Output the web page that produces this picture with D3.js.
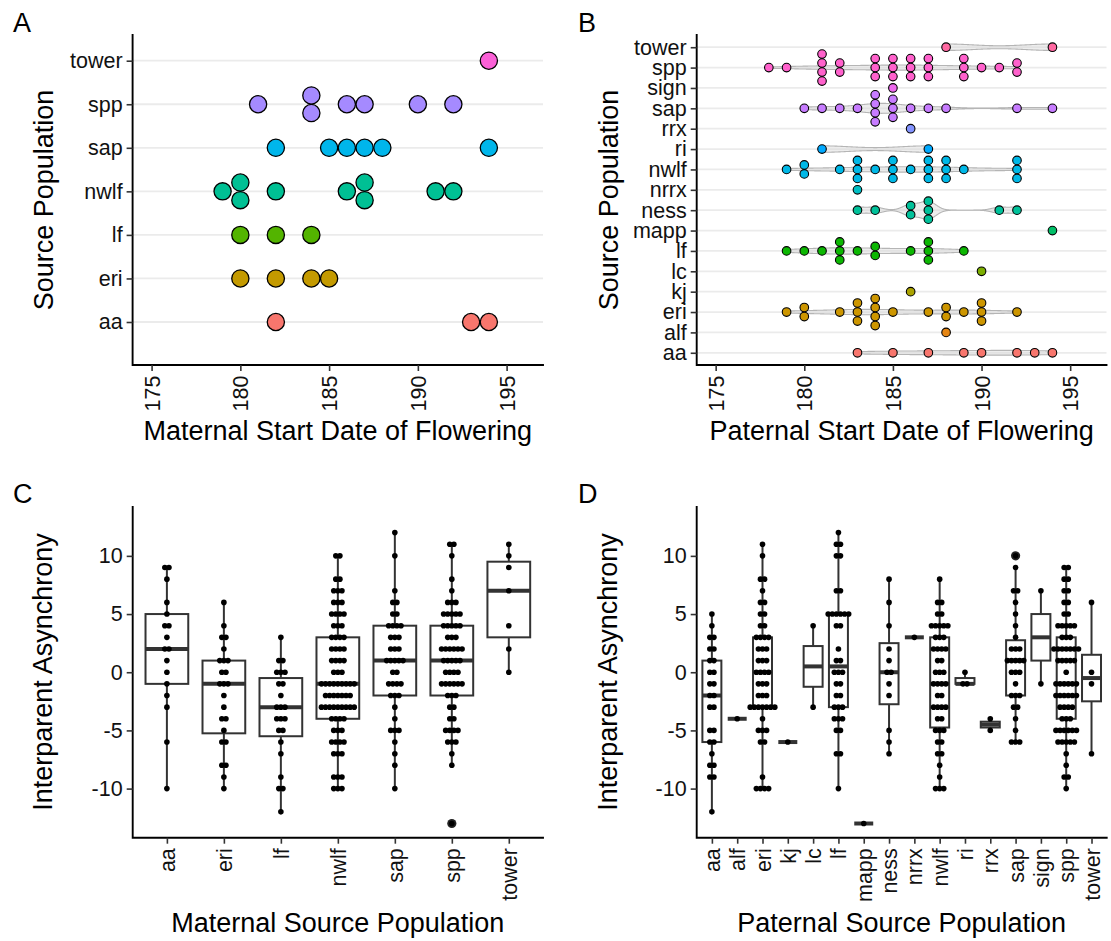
<!DOCTYPE html>
<html>
<head>
<meta charset="utf-8">
<script src="https://cdn.jsdelivr.net/npm/d3@7"></script>
<style>
  body { margin: 0; background: #fff; }
  text { font-family: "Liberation Sans", Arial, sans-serif; }
</style>
</head>
<body>
<script>
// ---- data ----
const maternalPops = ["aa", "eri", "lf", "nwlf", "sap", "spp", "tower"];
const maternalColors = ["#F8766D", "#C49A00", "#53B400", "#00C094", "#00B6EB", "#A58AFF", "#FB61D7"];
// maternal start date of flowering, one array per population
const maternalStart = [
  [182, 193, 194],
  [180, 182, 184, 185],
  [180, 182, 184],
  [179, 180, 180, 182, 186, 187, 187, 191, 192],
  [182, 185, 186, 187, 188, 194],
  [181, 184, 184, 186, 187, 190, 192],
  [194]
];

const paternalPops = ["aa", "alf", "eri", "kj", "lc", "lf", "mapp", "ness", "nrrx", "nwlf", "ri", "rrx", "sap", "sign", "spp", "tower"];
const paternalColors = ["#F8766D", "#E68613", "#CD9600", "#ABA300", "#7CAE00", "#0CB702", "#00BE67", "#00C19A",
                        "#00BFC4", "#00B8E7", "#00A9FF", "#8494FF", "#C77CFF", "#ED68ED", "#FF61CC", "#FF68A1"];
// paternal start date of flowering as [date, count]
const paternalStart = [
  [[183,1],[185,1],[187,1],[189,1],[190,1],[192,1],[193,1],[194,1]],
  [[188,1]],
  [[179,1],[180,2],[182,1],[183,3],[184,4],[185,1],[187,1],[188,2],[189,1],[190,3],[192,1]],
  [[186,1]],
  [[190,1]],
  [[179,1],[180,1],[181,1],[182,3],[183,1],[184,2],[186,1],[187,3],[189,1]],
  [[194,1]],
  [[183,1],[184,1],[186,2],[187,3],[191,1],[192,1]],
  [[183,1]],
  [[179,1],[180,2],[182,1],[183,3],[184,1],[185,3],[186,1],[187,3],[188,3],[189,1],[192,3]],
  [[181,1],[187,1]],
  [[186,1]],
  [[180,1],[181,1],[182,1],[183,1],[184,4],[185,3],[186,1],[187,1],[188,1],[192,1],[194,1]],
  [[185,1]],
  [[178,1],[179,1],[181,4],[182,2],[184,3],[185,3],[186,3],[187,3],[189,3],[190,1],[191,1],[192,2]],
  [[188,1],[194,1]]
];

// interparent asynchrony by maternal population as [value, count]
const maternalAsync = [
  [[9,2],[8,1],[6,1],[5,1],[4,2],[3,1],[2,2],[1,1],[0,1],[-1,1],[-2,1],[-3,1],[-6,1],[-10,1]],
  [[6,1],[4,1],[3,2],[2,1],[1,3],[0,2],[-1,3],[-2,1],[-3,1],[-4,2],[-5,1],[-6,2],[-8,2],[-9,1],[-10,1]],
  [[3,1],[1,2],[0,3],[-1,2],[-2,1],[-3,3],[-4,3],[-5,2],[-6,1],[-7,1],[-9,1],[-10,2],[-12,1]],
  [[10,2],[8,2],[7,3],[6,3],[5,4],[4,3],[3,4],[2,4],[1,4],[0,3],[-1,9],[-2,7],[-3,9],[-4,4],[-5,3],[-6,4],[-7,3],[-9,3],[-10,3]],
  [[12,1],[10,1],[7,1],[6,2],[5,2],[4,4],[3,3],[2,3],[1,5],[0,2],[-1,4],[-2,3],[-3,1],[-4,1],[-5,3],[-6,1],[-7,1],[-8,1],[-10,1]],
  [[11,2],[10,1],[8,1],[7,1],[6,3],[5,5],[4,5],[3,3],[2,6],[1,5],[0,4],[-1,6],[-2,3],[-3,2],[-4,2],[-5,4],[-6,3],[-7,1],[-8,1],[-13,1]],
  [[11,1],[10,1],[9,1],[7,1],[4,1],[2,1],[0,1]]
];

// interparent asynchrony by paternal population as [value, count]
const paternalAsync = [
  [[5,1],[4,1],[3,2],[2,2],[1,2],[0,2],[-1,2],[-2,2],[-3,2],[-5,2],[-6,2],[-7,1],[-8,2],[-9,2],[-12,1]],
  [[-4,1]],
  [[11,1],[10,1],[8,2],[7,1],[6,2],[5,2],[4,2],[3,4],[2,3],[1,3],[0,4],[-1,3],[-2,3],[-3,7],[-4,1],[-5,3],[-6,2],[-9,1],[-10,4]],
  [[-6,1]],
  [[4,1],[-3,1]],
  [[12,1],[11,2],[10,2],[7,2],[5,6],[4,2],[2,1],[1,2],[0,3],[-1,2],[-2,2],[-3,3],[-4,3],[-5,2],[-7,2],[-10,1]],
  [[-13,1]],
  [[8,1],[6,1],[4,1],[2,1],[1,1],[0,2],[-1,1],[-2,1],[-5,1],[-6,1],[-7,1]],
  [[3,1]],
  [[8,1],[6,2],[5,2],[4,5],[3,3],[2,4],[1,2],[0,3],[-1,4],[-2,2],[-3,4],[-4,2],[-5,3],[-6,2],[-7,2],[-8,1],[-9,1],[-10,3]],
  [[0,1],[-1,2]],
  [[-4,1],[-5,1]],
  [[10,1],[9,1],[7,2],[6,1],[5,1],[4,1],[3,1],[2,3],[1,5],[0,3],[-1,1],[-2,3],[-3,2],[-4,1],[-5,1],[-6,3]],
  [[7,1],[-1,1]],
  [[9,2],[8,2],[7,2],[6,2],[5,2],[4,5],[3,3],[2,7],[1,5],[0,1],[-1,6],[-2,6],[-3,4],[-4,3],[-5,6],[-6,5],[-7,1],[-8,1],[-9,2],[-10,1]],
  [[6,1],[0,1],[-1,1],[-7,1]]
];

const dateTicks = [175, 180, 185, 190, 195];
const asyncTicks = [-10, -5, 0, 5, 10];

// ---- helpers ----
const expand = pairs => pairs.flatMap(([v, n]) => d3.range(n).map(() => v));
const toPairs = vals => d3.rollups(vals, v => v.length, d => d);

const svg = d3.select("body").append("svg")
    .attr("width", 1111)
    .attr("height", 941)
    .style("background", "#fff");

const TICK_FS = 21.5, TITLE_FS = 27;

function styleAxis(g) {
  g.attr("font-family", null).attr("font-size", null);
  g.select(".domain").remove();
  g.selectAll(".tick line").attr("stroke", "#333").attr("stroke-width", 1.6);
  g.selectAll(".tick text").attr("fill", "#111").style("font-size", TICK_FS + "px");
}

function axisFrame(g, x0, x1, y0, y1) {
  g.append("path")
      .attr("d", `M${x0},${y0}V${y1}H${x1}`)
      .attr("fill", "none")
      .attr("stroke", "#000")
      .attr("stroke-width", 1.9)
      .attr("stroke-linecap", "square");
}

function bottomAxis(g, scale, y, ticks) {
  const ax = d3.axisBottom(scale).tickSize(6).tickSizeOuter(0);
  if (ticks) ax.tickValues(ticks);
  const a = g.append("g").attr("transform", `translate(0,${y})`).call(ax);
  styleAxis(a);
  a.selectAll(".tick text")
      .attr("transform", "rotate(-90)")
      .attr("x", -10.5)
      .attr("y", 0)
      .attr("dy", "0.35em")
      .style("text-anchor", "end");
}

function leftAxis(g, scale, x, ticks, fmt) {
  const ax = d3.axisLeft(scale).tickSize(6).tickPadding(4).tickSizeOuter(0);
  if (ticks) ax.tickValues(ticks);
  if (fmt) ax.tickFormat(fmt);
  const a = g.append("g").attr("transform", `translate(${x},0)`).call(ax);
  styleAxis(a);
}

function titles(g, xTitle, xc, yb, yTitle, yx, yc) {
  g.append("text").attr("x", xc).attr("y", yb)
      .attr("text-anchor", "middle").style("font-size", TITLE_FS + "px").text(xTitle);
  g.append("text").attr("transform", `translate(${yx},${yc}) rotate(-90)`)
      .attr("dy", "0.35em")
      .attr("text-anchor", "middle").style("font-size", TITLE_FS + "px").text(yTitle);
}

function panelLabel(label, x, y) {
  svg.append("text").attr("x", x).attr("y", y).style("font-size", "27px").text(label);
}

// ---- stacked dot panels (A, B) ----
function dotPanel(opts) {
  const { pops, data, colors, x, y, r, gap, sw } = opts;
  const g = svg.append("g");
  const [x0, x1] = x.range();
  g.selectAll("line.grid").data(pops).join("line")
      .attr("x1", x0).attr("x2", x1)
      .attr("y1", d => y(d)).attr("y2", d => y(d))
      .attr("stroke", "#ebebeb").attr("stroke-width", 1.8);
  if (opts.violin) opts.violin(g);
  const pts = [];
  pops.forEach((p, i) => {
    data[i].forEach(([v, n]) => {
      for (let k = 0; k < n; k++) {
        pts.push({ v, y: y(p) + (k - (n - 1) / 2) * gap, c: colors[i] });
      }
    });
  });
  g.selectAll("circle").data(pts).join("circle")
      .attr("cx", d => x(d.v))
      .attr("cy", d => d.y)
      .attr("r", r)
      .attr("fill", d => d.c)
      .attr("stroke", "#000")
      .attr("stroke-width", sw);
  return g;
}

// panel A
const xA = d3.scaleLinear().domain([173.93, 197.05]).range([132.6, 543]);
const yA = d3.scalePoint().domain(maternalPops).range([322, 60.7]);
const gA = dotPanel({ pops: maternalPops, data: maternalStart.map(toPairs), colors: maternalColors,
                      x: xA, y: yA, r: 8.6, gap: 17.6, sw: 1.3 });
axisFrame(gA, 132.6, 543, 35, 365);
leftAxis(gA, yA, 132.6);
bottomAxis(gA, xA, 365, dateTicks);
titles(gA, "Maternal Start Date of Flowering", 337.8, 440, "Source Population", 44, 200);
panelLabel("A", 13, 32);

// panel B
const xB = d3.scaleLinear().domain([173.93, 197.05]).range([696.7, 1106.5]);
const yB = d3.scalePoint().domain(paternalPops).range([365, 35]).padding(0.6);

function violinLayer(g) {
  const groups = [];
  paternalPops.forEach((p, i) => {
    const vals = expand(paternalStart[i]).sort(d3.ascending);
    if (vals.length < 2) return;
    const sd = d3.deviation(vals);
    const iqr = d3.quantileSorted(vals, 0.75) - d3.quantileSorted(vals, 0.25);
    let lo = Math.min(sd, iqr / 1.34);
    if (!(lo > 0)) lo = sd || 1;
    const bw = 0.9 * lo * Math.pow(vals.length, -0.2);
    const lo0 = vals[0], hi0 = vals[vals.length - 1];
    const grid = d3.range(512).map(k => lo0 + (hi0 - lo0) * k / 511);
    const dens = grid.map(gx => ({
      x: gx,
      d: d3.mean(vals, v => Math.exp(-0.5 * ((gx - v) / bw) ** 2)) / (bw * Math.sqrt(2 * Math.PI))
    }));
    groups.push({ p, dens });
  });
  const maxD = d3.max(groups, gr => d3.max(gr.dens, d => d.d));
  const half = 0.45 * yB.step();
  groups.forEach(gr => {
    const cy = yB(gr.p);
    const area = d3.area()
        .x(d => xB(d.x))
        .y0(d => cy - d.d / maxD * half)
        .y1(d => cy + d.d / maxD * half);
    g.append("path").datum(gr.dens)
        .attr("d", area)
        .attr("fill", "#d6d6d6")
        .attr("fill-opacity", 0.45)
        .attr("stroke", "#b5b5b5")
        .attr("stroke-width", 1.1);
  });
}

const gB = dotPanel({ pops: paternalPops, data: paternalStart, colors: paternalColors,
                      x: xB, y: yB, r: 4.3, gap: 9, sw: 1.1, violin: violinLayer });
axisFrame(gB, 696.7, 1106.5, 35, 365);
leftAxis(gB, yB, 696.7);
bottomAxis(gB, xB, 365, dateTicks);
titles(gB, "Paternal Start Date of Flowering", 901.6, 440, "Source Population", 609, 200);
panelLabel("B", 578, 32);

// ---- box + dot panels (C, D) ----
function boxPanel(pops, data, x, y) {
  const g = svg.append("g");
  const bw = 0.75 * x.step();
  const stats = pops.map((p, i) => {
    const s = expand(data[i]).sort(d3.ascending);
    const q1 = d3.quantileSorted(s, 0.25), med = d3.quantileSorted(s, 0.5), q3 = d3.quantileSorted(s, 0.75);
    const iqr = q3 - q1, lo = q1 - 1.5 * iqr, hi = q3 + 1.5 * iqr;
    const inside = s.filter(v => v >= lo && v <= hi);
    return { p, q1, med, q3, wlo: d3.min(inside), whi: d3.max(inside),
             out: s.filter(v => v < lo || v > hi), pairs: data[i] };
  });
  // whiskers
  g.selectAll("line.wh").data(stats.flatMap(d => [[d.p, d.q3, d.whi], [d.p, d.q1, d.wlo]])).join("line")
      .attr("x1", d => x(d[0])).attr("x2", d => x(d[0]))
      .attr("y1", d => y(d[1])).attr("y2", d => y(d[2]))
      .attr("stroke", "#333").attr("stroke-width", 2);
  // boxes
  g.selectAll("rect").data(stats).join("rect")
      .attr("x", d => x(d.p) - bw / 2).attr("width", bw)
      .attr("y", d => y(d.q3)).attr("height", d => y(d.q1) - y(d.q3))
      .attr("fill", "#fff").attr("stroke", "#333").attr("stroke-width", 2);
  // medians
  g.selectAll("line.med").data(stats).join("line")
      .attr("x1", d => x(d.p) - bw / 2).attr("x2", d => x(d.p) + bw / 2)
      .attr("y1", d => y(d.med)).attr("y2", d => y(d.med))
      .attr("stroke", "#333").attr("stroke-width", 4);
  // outliers
  g.selectAll("circle.out").data(stats.flatMap(d => d.out.map(v => [d.p, v]))).join("circle")
      .attr("cx", d => x(d[0])).attr("cy", d => y(d[1]))
      .attr("r", 4.6).attr("fill", "#222");
  // centred dot stacks
  const pts = stats.flatMap(d => d.pairs.flatMap(([v, n]) =>
      d3.range(n).map(k => ({ cx: x(d.p) + (k - (n - 1) / 2) * 4.1, v }))));
  g.selectAll("circle.dot").data(pts).join("circle")
      .attr("cx", d => d.cx).attr("cy", d => y(d.v))
      .attr("r", 2.8).attr("fill", "#000");
  return g;
}

// panel C
const xC = d3.scalePoint().domain(maternalPops).range([132.7, 543]).padding(0.6);
const yC = d3.scaleLinear().domain([-14.22, 14.2]).range([837.7, 507]);
const gC = boxPanel(maternalPops, maternalAsync, xC, yC);
axisFrame(gC, 132.7, 543, 507, 837.7);
leftAxis(gC, yC, 132.7, asyncTicks, d => String(d));
bottomAxis(gC, xC, 837.7);
titles(gC, "Maternal Source Population", 337.8, 932, "Interparent Asynchrony", 43, 672);
panelLabel("C", 13, 503);

// panel D
const xD = d3.scalePoint().domain(paternalPops).range([696.7, 1106.7]).padding(0.6);
const yD = d3.scaleLinear().domain([-14.22, 14.2]).range([837.7, 507]);
const gD = boxPanel(paternalPops, paternalAsync, xD, yD);
axisFrame(gD, 696.7, 1106.7, 507, 837.7);
leftAxis(gD, yD, 696.7, asyncTicks, d => String(d));
bottomAxis(gD, xD, 837.7);
titles(gD, "Paternal Source Population", 901.7, 932, "Interparent Asynchrony", 608, 672);
panelLabel("D", 578, 503);
</script>
</body>
</html>
